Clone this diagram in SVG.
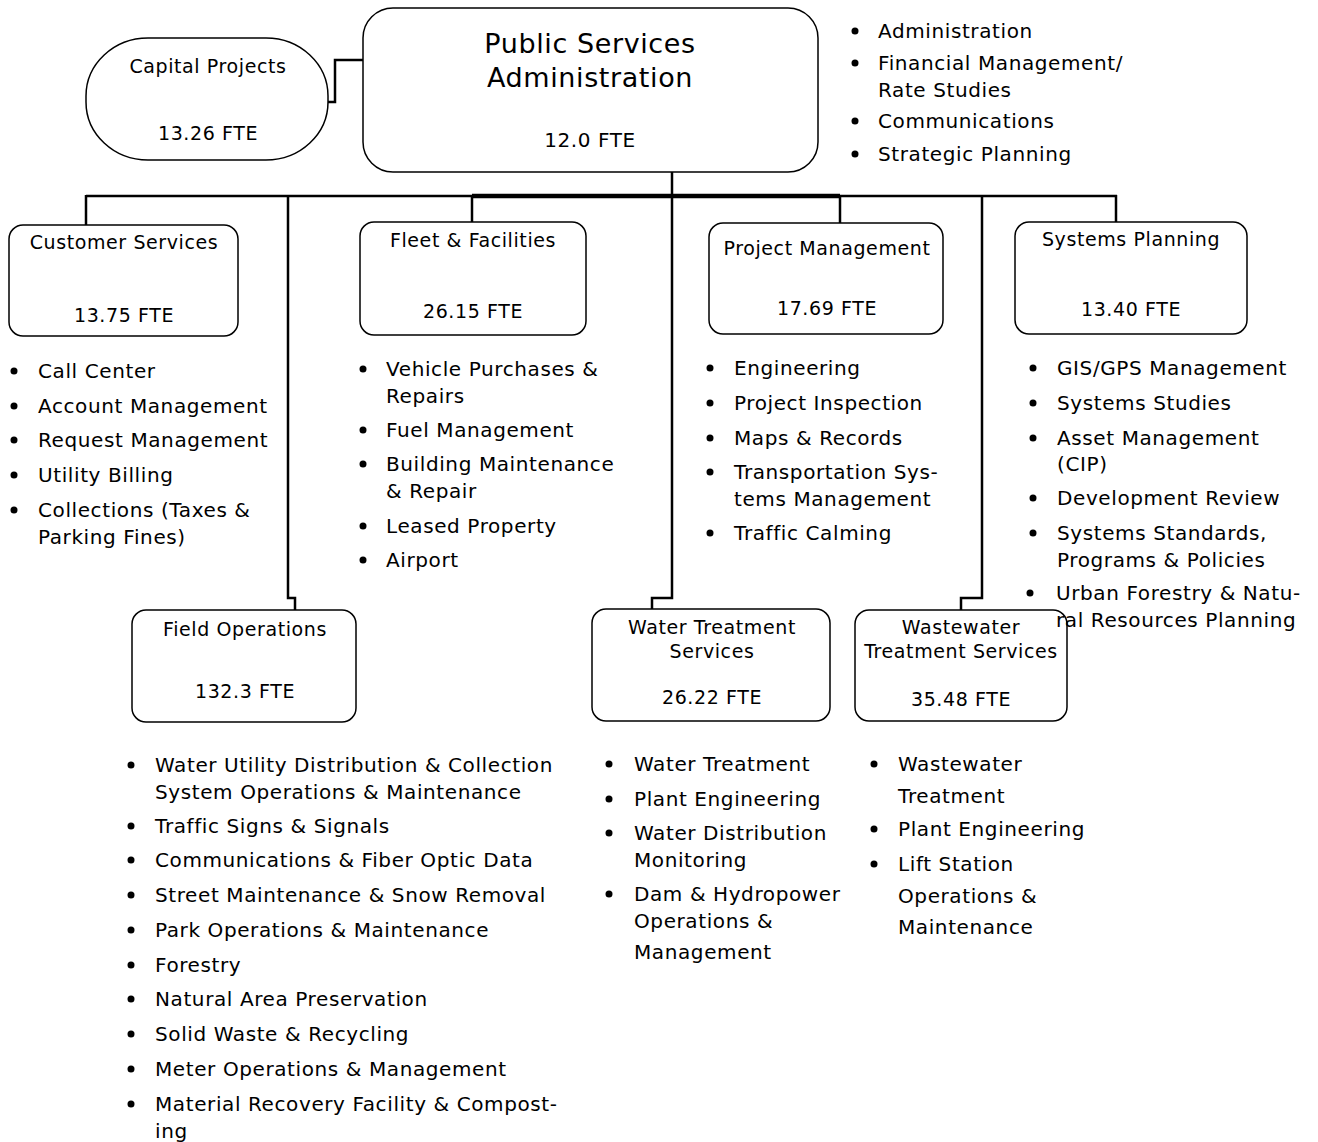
<svg xmlns="http://www.w3.org/2000/svg" width="1318" height="1142" viewBox="0 0 1318 1142">
<style>
  .box { fill: #fff; stroke: #000; stroke-width: 1.5; }
  .wire { fill: none; stroke: #000; stroke-width: 2.5; stroke-linejoin: miter; }
  .trunk { fill: none; stroke: #000; stroke-width: 4.5; }
  .lbl { font-family: "DejaVu Sans", Verdana, sans-serif; font-size: 19px; letter-spacing: 0.6px; fill: #000; text-anchor: middle; }
  .head { font-family: "DejaVu Sans", Verdana, sans-serif; font-size: 27px; letter-spacing: 0.6px; fill: #000; text-anchor: middle; }
  .li { font-family: "DejaVu Sans", Verdana, sans-serif; font-size: 20px; letter-spacing: 0.6px; fill: #000; }
  .dot { fill: #000; }
</style>
<rect width="1318" height="1142" fill="#fff"/>

<!-- connectors -->
<g id="connectors">
  <polyline class="wire" points="328,102 335,102 335,60 363,60"/>
  <line class="wire" x1="672" y1="172" x2="672" y2="196"/>
  <line class="wire" x1="86" y1="196" x2="1117" y2="196"/>
  <line class="trunk" x1="472" y1="196" x2="840" y2="196"/>
  <line class="wire" x1="86" y1="195" x2="86" y2="225"/>
  <polyline class="wire" points="288,195 288,598 295,598 295,610"/>
  <line class="wire" x1="472" y1="195" x2="472" y2="222"/>
  <polyline class="wire" points="672,195 672,598 652,598 652,609"/>
  <line class="wire" x1="840" y1="195" x2="840" y2="223"/>
  <polyline class="wire" points="982,195 982,598 961,598 961,610"/>
  <line class="wire" x1="1116" y1="195" x2="1116" y2="222"/>
</g>

<g id="capital-projects">
  <rect class="box" x="86" y="38" width="242" height="122" rx="62" ry="58"/>
  <text class="lbl" x="208" y="73">Capital Projects</text>
  <text class="lbl" x="208" y="140">13.26 FTE</text>
</g>

<g id="public-services-admin">
  <rect class="box" x="363" y="8" width="455" height="164" rx="30"/>
  <text class="head" x="590" y="53">Public Services</text>
  <text class="head" x="590" y="87">Administration</text>
  <text class="lbl" x="590" y="147" style="font-size:20px">12.0 FTE</text>
</g>

<g id="admin-duties">
  <circle class="dot" cx="855" cy="31" r="3.5"/><text class="li" x="878" y="38">Administration</text>
  <circle class="dot" cx="855" cy="63" r="3.5"/><text class="li" x="878" y="70">Financial Management/</text>
  <text class="li" x="878" y="97">Rate Studies</text>
  <circle class="dot" cx="855" cy="121" r="3.5"/><text class="li" x="878" y="128">Communications</text>
  <circle class="dot" cx="855" cy="154" r="3.5"/><text class="li" x="878" y="161">Strategic Planning</text>
</g>

<g id="customer-services">
  <rect class="box" x="9" y="225" width="229" height="111" rx="14"/>
  <text class="lbl" x="124" y="249">Customer Services</text>
  <text class="lbl" x="124" y="322">13.75 FTE</text>
</g>
<g id="customer-services-duties">
  <circle class="dot" cx="14" cy="371" r="3.5"/><text class="li" x="38" y="378">Call Center</text>
  <circle class="dot" cx="14" cy="406" r="3.5"/><text class="li" x="38" y="413">Account Management</text>
  <circle class="dot" cx="14" cy="440" r="3.5"/><text class="li" x="38" y="447">Request Management</text>
  <circle class="dot" cx="14" cy="475" r="3.5"/><text class="li" x="38" y="482">Utility Billing</text>
  <circle class="dot" cx="14" cy="510" r="3.5"/><text class="li" x="38" y="517">Collections (Taxes &amp;</text>
  <text class="li" x="38" y="544">Parking Fines)</text>
</g>

<g id="fleet-facilities">
  <rect class="box" x="360" y="222" width="226" height="113" rx="14"/>
  <text class="lbl" x="473" y="247">Fleet &amp; Facilities</text>
  <text class="lbl" x="473" y="318">26.15 FTE</text>
</g>
<g id="fleet-facilities-duties">
  <circle class="dot" cx="363" cy="369" r="3.5"/><text class="li" x="386" y="376">Vehicle Purchases &amp;</text>
  <text class="li" x="386" y="403">Repairs</text>
  <circle class="dot" cx="363" cy="430" r="3.5"/><text class="li" x="386" y="437">Fuel Management</text>
  <circle class="dot" cx="363" cy="464" r="3.5"/><text class="li" x="386" y="471">Building Maintenance</text>
  <text class="li" x="386" y="498">&amp; Repair</text>
  <circle class="dot" cx="363" cy="526" r="3.5"/><text class="li" x="386" y="533">Leased Property</text>
  <circle class="dot" cx="363" cy="560" r="3.5"/><text class="li" x="386" y="567">Airport</text>
</g>

<g id="project-management">
  <rect class="box" x="709" y="223" width="234" height="111" rx="14"/>
  <text class="lbl" x="827" y="255">Project Management</text>
  <text class="lbl" x="827" y="315">17.69 FTE</text>
</g>
<g id="project-management-duties">
  <circle class="dot" cx="710" cy="368" r="3.5"/><text class="li" x="734" y="375">Engineering</text>
  <circle class="dot" cx="710" cy="403" r="3.5"/><text class="li" x="734" y="410">Project Inspection</text>
  <circle class="dot" cx="710" cy="438" r="3.5"/><text class="li" x="734" y="445">Maps &amp; Records</text>
  <circle class="dot" cx="710" cy="472" r="3.5"/><text class="li" x="734" y="479">Transportation Sys-</text>
  <text class="li" x="734" y="506">tems Management</text>
  <circle class="dot" cx="710" cy="533" r="3.5"/><text class="li" x="734" y="540">Traffic Calming</text>
</g>

<g id="systems-planning">
  <rect class="box" x="1015" y="222" width="232" height="112" rx="14"/>
  <text class="lbl" x="1131" y="246">Systems Planning</text>
  <text class="lbl" x="1131" y="316">13.40 FTE</text>
</g>

<g id="field-operations">
  <rect class="box" x="132" y="610" width="224" height="112" rx="14"/>
  <text class="lbl" x="245" y="636">Field Operations</text>
  <text class="lbl" x="245" y="698">132.3 FTE</text>
</g>
<g id="field-operations-duties">
  <circle class="dot" cx="131" cy="765" r="3.5"/><text class="li" x="155" y="772">Water Utility Distribution &amp; Collection</text>
  <text class="li" x="155" y="799">System Operations &amp; Maintenance</text>
  <circle class="dot" cx="131" cy="826" r="3.5"/><text class="li" x="155" y="833">Traffic Signs &amp; Signals</text>
  <circle class="dot" cx="131" cy="860" r="3.5"/><text class="li" x="155" y="867">Communications &amp; Fiber Optic Data</text>
  <circle class="dot" cx="131" cy="895" r="3.5"/><text class="li" x="155" y="902">Street Maintenance &amp; Snow Removal</text>
  <circle class="dot" cx="131" cy="930" r="3.5"/><text class="li" x="155" y="937">Park Operations &amp; Maintenance</text>
  <circle class="dot" cx="131" cy="965" r="3.5"/><text class="li" x="155" y="972">Forestry</text>
  <circle class="dot" cx="131" cy="999" r="3.5"/><text class="li" x="155" y="1006">Natural Area Preservation</text>
  <circle class="dot" cx="131" cy="1034" r="3.5"/><text class="li" x="155" y="1041">Solid Waste &amp; Recycling</text>
  <circle class="dot" cx="131" cy="1069" r="3.5"/><text class="li" x="155" y="1076">Meter Operations &amp; Management</text>
  <circle class="dot" cx="131" cy="1104" r="3.5"/><text class="li" x="155" y="1111">Material Recovery Facility &amp; Compost-</text>
  <text class="li" x="155" y="1138">ing</text>
</g>

<g id="water-treatment">
  <rect class="box" x="592" y="609" width="238" height="112" rx="14"/>
  <text class="lbl" x="712" y="634">Water Treatment</text>
  <text class="lbl" x="712" y="658">Services</text>
  <text class="lbl" x="712" y="704">26.22 FTE</text>
</g>
<g id="water-treatment-duties">
  <circle class="dot" cx="609" cy="764" r="3.5"/><text class="li" x="634" y="771">Water Treatment</text>
  <circle class="dot" cx="609" cy="799" r="3.5"/><text class="li" x="634" y="806">Plant Engineering</text>
  <circle class="dot" cx="609" cy="833" r="3.5"/><text class="li" x="634" y="840">Water Distribution</text>
  <text class="li" x="634" y="867">Monitoring</text>
  <circle class="dot" cx="609" cy="894" r="3.5"/><text class="li" x="634" y="901">Dam &amp; Hydropower</text>
  <text class="li" x="634" y="928">Operations &amp;</text>
  <text class="li" x="634" y="959">Management</text>
</g>

<g id="wastewater-treatment">
  <rect class="box" x="855" y="610" width="212" height="111" rx="14"/>
  <text class="lbl" x="961" y="634">Wastewater</text>
  <text class="lbl" x="961" y="658">Treatment Services</text>
  <text class="lbl" x="961" y="706">35.48 FTE</text>
</g>
<g id="wastewater-treatment-duties">
  <circle class="dot" cx="874" cy="764" r="3.5"/><text class="li" x="898" y="771">Wastewater</text>
  <text class="li" x="898" y="803">Treatment</text>
  <circle class="dot" cx="874" cy="829" r="3.5"/><text class="li" x="898" y="836">Plant Engineering</text>
  <circle class="dot" cx="874" cy="864" r="3.5"/><text class="li" x="898" y="871">Lift Station</text>
  <text class="li" x="898" y="903">Operations &amp;</text>
  <text class="li" x="898" y="934">Maintenance</text>
</g>

<!-- drawn last: the final item runs over the wastewater box corner -->
<g id="systems-planning-duties">
  <circle class="dot" cx="1033" cy="368" r="3.5"/><text class="li" x="1057" y="375">GIS/GPS Management</text>
  <circle class="dot" cx="1033" cy="403" r="3.5"/><text class="li" x="1057" y="410">Systems Studies</text>
  <circle class="dot" cx="1033" cy="438" r="3.5"/><text class="li" x="1057" y="445">Asset Management</text>
  <text class="li" x="1057" y="471">(CIP)</text>
  <circle class="dot" cx="1033" cy="498" r="3.5"/><text class="li" x="1057" y="505">Development Review</text>
  <circle class="dot" cx="1033" cy="533" r="3.5"/><text class="li" x="1057" y="540">Systems Standards,</text>
  <text class="li" x="1057" y="567">Programs &amp; Policies</text>
  <circle class="dot" cx="1030" cy="593" r="3.5"/><text class="li" x="1056" y="600">Urban Forestry &amp; Natu-</text>
  <text class="li" x="1056" y="627">ral Resources Planning</text>
</g>
</svg>
